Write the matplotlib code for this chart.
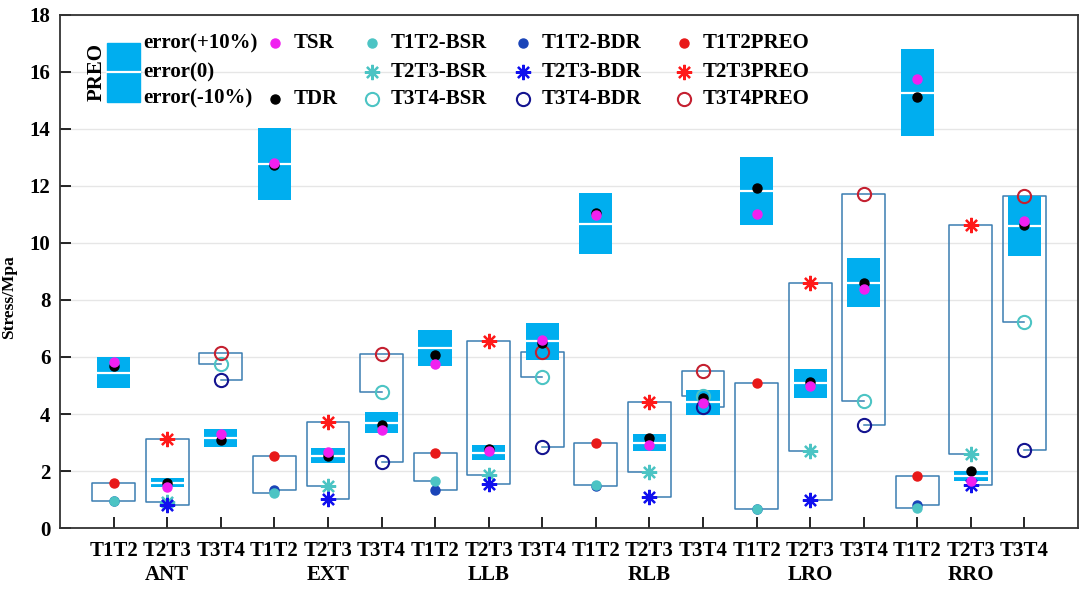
import matplotlib
matplotlib.use("Agg")
import matplotlib.pyplot as plt
import numpy as np

plt.rcParams['font.family'] = ['Liberation Serif', 'DejaVu Serif']
plt.rcParams['font.weight'] = 'bold'

# segments and regions
segments = ['T1T2', 'T2T3', 'T3T4'] * 6
regions = ['ANT', 'EXT', 'LLB', 'RLB', 'LRO', 'RRO']

# PREO box centre (box spans -10% .. +10%)
preo_box = [5.45, 1.58, 3.15, 12.77, 2.54, 3.69, 6.32, 2.64, 6.55,
            10.68, 2.99, 4.41, 11.83, 5.08, 8.60, 15.28, 1.82, 10.60]
tsr = [5.84, 1.45, 3.30, 12.82, 2.68, 3.44, 5.75, 2.69, 6.60,
       10.97, 2.90, 4.40, 11.02, 5.00, 8.40, 15.77, 1.65, 10.78]
tdr = [5.68, 1.59, 3.09, 12.75, 2.51, 3.60, 6.06, 2.76, 6.48,
       11.06, 3.15, 4.56, 11.93, 5.13, 8.61, 15.12, 2.01, 10.62]
# per-segment values (top of bracket = PREO, left = BSR, right = BDR)
preo_seg = [1.58, 3.13, 6.13, 2.53, 3.71, 6.10, 2.64, 6.56, 6.16,
            2.99, 4.43, 5.50, 5.09, 8.58, 11.73, 1.82, 10.62, 11.64]
bsr = [0.95, 0.92, 5.74, 1.22, 1.47, 4.76, 1.66, 1.85, 5.31,
       1.50, 1.98, 4.64, 0.67, 2.69, 4.45, 0.69, 2.60, 7.22]
bdr = [0.94, 0.80, 5.19, 1.32, 1.02, 2.32, 1.33, 1.56, 2.85,
       1.49, 1.10, 4.26, 0.68, 0.97, 3.61, 0.79, 1.51, 2.74]

box_color = '#00AEEF'
line_color = '#3A7DB2'
c_tsr = '#F020F0'
c_bsr = '#4CC4C4'
c_bdr1 = '#1A44B8'
c_bdr2 = '#1010EE'
c_bdr3 = '#141490'
c_pre1 = '#E81818'
c_pre2 = '#FF1A1A'
c_pre3 = '#C42030'
ast = (8, 2, 0)

x = np.arange(1, 19)
preo_box = np.array(preo_box)

fig = plt.figure(figsize=(10.8, 5.95), dpi=100)
ax = fig.add_axes([0.0556, 0.1126, 0.9426, 0.8622])

# brackets
w = 0.4
for xi, b, p, d in zip(x, bsr, preo_seg, bdr):
    ax.plot([xi, xi - w, xi - w, xi + w, xi + w, xi],
            [b, b, p, p, d, d], color=line_color, lw=1.1, zorder=2)

# PREO boxes with +-10%
ax.bar(x, 0.2 * preo_box, bottom=0.9 * preo_box, width=0.62,
       color=box_color, zorder=3)
ax.hlines(preo_box, x - 0.31, x + 0.31, color='white', lw=1.6, zorder=4)

i1 = x[0::3] - 1
i2 = x[1::3] - 1
i3 = x[2::3] - 1
bsr = np.array(bsr); bdr = np.array(bdr); preo_seg = np.array(preo_seg)

ms = 6.5
ax.plot(x[i1], bdr[i1], 'o', color=c_bdr1, ms=ms, zorder=5)
ax.plot(x[i1], bsr[i1], 'o', color=c_bsr, ms=ms, zorder=5)
ax.plot(x[i1], preo_seg[i1], 'o', color=c_pre1, ms=ms, zorder=5)
ax.plot(x[i2], bsr[i2], marker=ast, ls='none', color=c_bsr, ms=11, mew=1.6, zorder=5)
ax.plot(x[i2], bdr[i2], marker=ast, ls='none', color=c_bdr2, ms=11, mew=1.6, zorder=5)
ax.plot(x[i2], preo_seg[i2], marker=ast, ls='none', color=c_pre2, ms=11, mew=1.6, zorder=5)
ax.plot(x[i3], bsr[i3], 'o', mfc='none', mec=c_bsr, ms=9.5, mew=1.5, zorder=5)
ax.plot(x[i3], bdr[i3], 'o', mfc='none', mec=c_bdr3, ms=9.5, mew=1.5, zorder=5)
ax.plot(x[i3], preo_seg[i3], 'o', mfc='none', mec=c_pre3, ms=9.5, mew=1.5, zorder=5)
ax.plot(x, tdr, 'o', color='black', ms=ms, zorder=6)
ax.plot(x, tsr, 'o', color=c_tsr, ms=ms, zorder=6)

ax.set_xlim(0, 19)
ax.set_ylim(0, 18)
ax.set_yticks(np.arange(0, 19, 2))
ax.set_xticks(x)
ax.set_xticklabels(segments)
ax.tick_params(axis='both', direction='in', labelsize=15, length=8, width=1.2)
ax.tick_params(axis='x', pad=9)
ax.tick_params(axis='y', pad=7)
ax.grid(axis='y', color='#E6E6E6', lw=1)
ax.set_axisbelow(True)
for s in ax.spines.values():
    s.set_linewidth(1.3)
    s.set_color('#333333')

for k, r in enumerate(regions):
    ax.text(3 * k + 2, -0.072, r, transform=ax.get_xaxis_transform(),
            ha='center', va='top', fontsize=15, fontweight='bold')

ax.set_ylabel('Stress/Mpa', fontsize=12.5, fontweight='bold')
ax.yaxis.set_label_coords(-0.042, 0.45)

# legend drawn in axes coordinates
T = ax.transAxes
rows = [0.9454, 0.8889, 0.8363]
fs = 15
ax.add_patch(plt.Rectangle((0.0459, 0.8298), 0.0327, 0.115, transform=T,
                           color=box_color, zorder=7))
ax.plot([0.0459, 0.0786], [0.888, 0.888], transform=T, color='white', lw=1.6, zorder=8)
ax.text(0.0363, 0.888, 'PREO', transform=T, rotation=90, ha='center', va='center',
        fontsize=fs, fontweight='bold')
for yy, t in zip(rows, ['error(+10%)', 'error(0)', 'error(-10%)']):
    ax.text(0.0815, yy, t, transform=T, ha='left', va='center', fontsize=fs, fontweight='bold')

def leg(xm, yy, label, **kw):
    ax.plot([xm], [yy], transform=T, ls='none', zorder=8, clip_on=False, **kw)
    ax.text(xm + 0.0185, yy, label, transform=T, ha='left', va='center',
            fontsize=fs, fontweight='bold')

leg(0.2112, rows[0], 'TSR', marker='o', color=c_tsr, ms=ms)
leg(0.2112, rows[2], 'TDR', marker='o', color='black', ms=ms)
leg(0.3065, rows[0], 'T1T2-BSR', marker='o', color=c_bsr, ms=ms)
leg(0.3065, rows[1], 'T2T3-BSR', marker=ast, color=c_bsr, ms=11, mew=1.6)
leg(0.3065, rows[2], 'T3T4-BSR', marker='o', mfc='none', mec=c_bsr, ms=9.5, mew=1.5)
leg(0.4548, rows[0], 'T1T2-BDR', marker='o', color=c_bdr1, ms=ms)
leg(0.4548, rows[1], 'T2T3-BDR', marker=ast, color=c_bdr2, ms=11, mew=1.6)
leg(0.4548, rows[2], 'T3T4-BDR', marker='o', mfc='none', mec=c_bdr3, ms=9.5, mew=1.5)
leg(0.6130, rows[0], 'T1T2PREO', marker='o', color=c_pre1, ms=ms)
leg(0.6130, rows[1], 'T2T3PREO', marker=ast, color=c_pre2, ms=11, mew=1.6)
leg(0.6130, rows[2], 'T3T4PREO', marker='o', mfc='none', mec=c_pre3, ms=9.5, mew=1.5)

fig.savefig('out.png', dpi=100)
